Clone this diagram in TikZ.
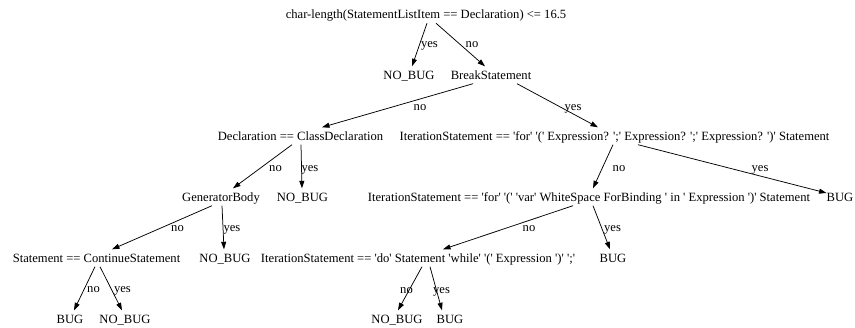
\documentclass[tikz,border=0pt]{standalone}
\usepackage{fontspec}
\setmainfont{Liberation Serif}
\usetikzlibrary{arrows.meta}
\newcommand{\sq}{\textquotesingle}
\begin{document}
\begin{tikzpicture}[x=1pt,y=-1pt,
  treenode/.style={font=\fontsize{12.6}{14}\selectfont, inner xsep=0pt, inner ysep=4.25pt,
                   text height=8.5pt, text depth=0pt, anchor=center},
  elab/.style={font=\fontsize{12.6}{14}\selectfont, inner sep=0pt, anchor=base},
  link/.style={draw, line width=0.75pt, -{Triangle[length=7.5pt,width=5pt]}}]
\useasboundingbox (0,0) rectangle (855,327);

% decision nodes and leaves
\node[treenode] (root) at (426,14.5) {char-length(StatementListItem == Declaration) <= 16.5};
\node[treenode] (nbA) at (409,75) {NO\_BUG};
\node[treenode] (brk) at (491,75) {BreakStatement};
\node[treenode] (decl) at (300.5,136) {Declaration == ClassDeclaration};
\node[treenode] (forx) at (614.5,136) {IterationStatement == \sq for\sq\ \sq(\sq\ Expression? \sq;\sq\ Expression? \sq;\sq\ Expression? \sq)\sq\ Statement};
\node[treenode] (gen) at (221,197) {GeneratorBody};
\node[treenode] (nbB) at (302.5,197) {NO\_BUG};
\node[treenode] (varx) at (589,197) {IterationStatement == \sq for\sq\ \sq(\sq\ \sq var\sq\ WhiteSpace ForBinding \sq\ in \sq\ Expression \sq)\sq\ Statement};
\node[treenode] (bugA) at (840,197) {BUG};
\node[treenode] (cont) at (96.5,258) {Statement == ContinueStatement};
\node[treenode] (nbC) at (225,258) {NO\_BUG};
\node[treenode] (dox) at (418,258) {IterationStatement == \sq do\sq\ Statement \sq while\sq\ \sq(\sq\ Expression \sq)\sq\ \sq;\sq};
\node[treenode] (bugB) at (613,258) {BUG};
\node[treenode] (bugC) at (70,319) {BUG};
\node[treenode] (nbD) at (125,319) {NO\_BUG};
\node[treenode] (nbE) at (397,319) {NO\_BUG};
\node[treenode] (bugD) at (450,319) {BUG};

% branches
\draw[link] ([xshift=1pt]root.south) -- ([xshift=3pt]nbA.north);
\draw[link] ([xshift=10pt]root.south) -- ([xshift=-6pt]brk.north);
\draw[link] ([xshift=-18pt]brk.south) -- ([xshift=21.5pt]decl.north);
\draw[link] ([xshift=26pt]brk.south) -- ([xshift=-16.5pt]forx.north);
\draw[link] ([xshift=-8.5pt]decl.south) -- ([xshift=12pt]gen.north);
\draw[link] ([xshift=0.5pt]decl.south) -- ([xshift=-0.5pt]nbB.north);
\draw[link] ([xshift=-1.5pt]forx.south) -- ([xshift=4pt]varx.north);
\draw[link] ([xshift=23.5pt]forx.south) -- ([yshift=4pt]bugA.west);
\draw[link] ([xshift=-9pt]gen.south) -- ([xshift=15.5pt]cont.north);
\draw[link] ([xshift=1pt]gen.south) -- ([xshift=-1pt]nbC.north);
\draw[link] ([xshift=-16pt]varx.south) -- ([xshift=25pt]dox.north);
\draw[link] ([xshift=4pt]varx.south) -- ([xshift=-3pt]bugB.north);
\draw[link] ([xshift=-1.5pt]cont.south) -- ([xshift=4pt]bugC.north);
\draw[link] ([xshift=3.5pt]cont.south) -- ([xshift=-3pt]nbD.north);
\draw[link] ([xshift=4pt]dox.south) -- ([xshift=1pt]nbE.north);
\draw[link] ([xshift=12pt]dox.south) -- ([xshift=-8pt]bugD.north);

% branch labels
\node[elab] (l1) at (429.5,47) {yes};
\node[elab] (l2) at (472,47) {no};
\node[elab] (l3) at (420,110) {no};
\node[elab] (l4) at (573,110) {yes};
\node[elab] (l5) at (275.5,171) {no};
\node[elab] (l6) at (310,171) {yes};
\node[elab] (l7) at (619,171) {no};
\node[elab] (l8) at (760,171) {yes};
\node[elab] (l9) at (177.5,231) {no};
\node[elab] (l10) at (232,231) {yes};
\node[elab] (l11) at (529,231) {no};
\node[elab] (l12) at (612.5,231) {yes};
\node[elab] (l13) at (93.5,292) {no};
\node[elab] (l14) at (122.5,292) {yes};
\node[elab] (l15) at (406.5,293) {no};
\node[elab] (l16) at (441.5,293) {yes};
\end{tikzpicture}
\end{document}
